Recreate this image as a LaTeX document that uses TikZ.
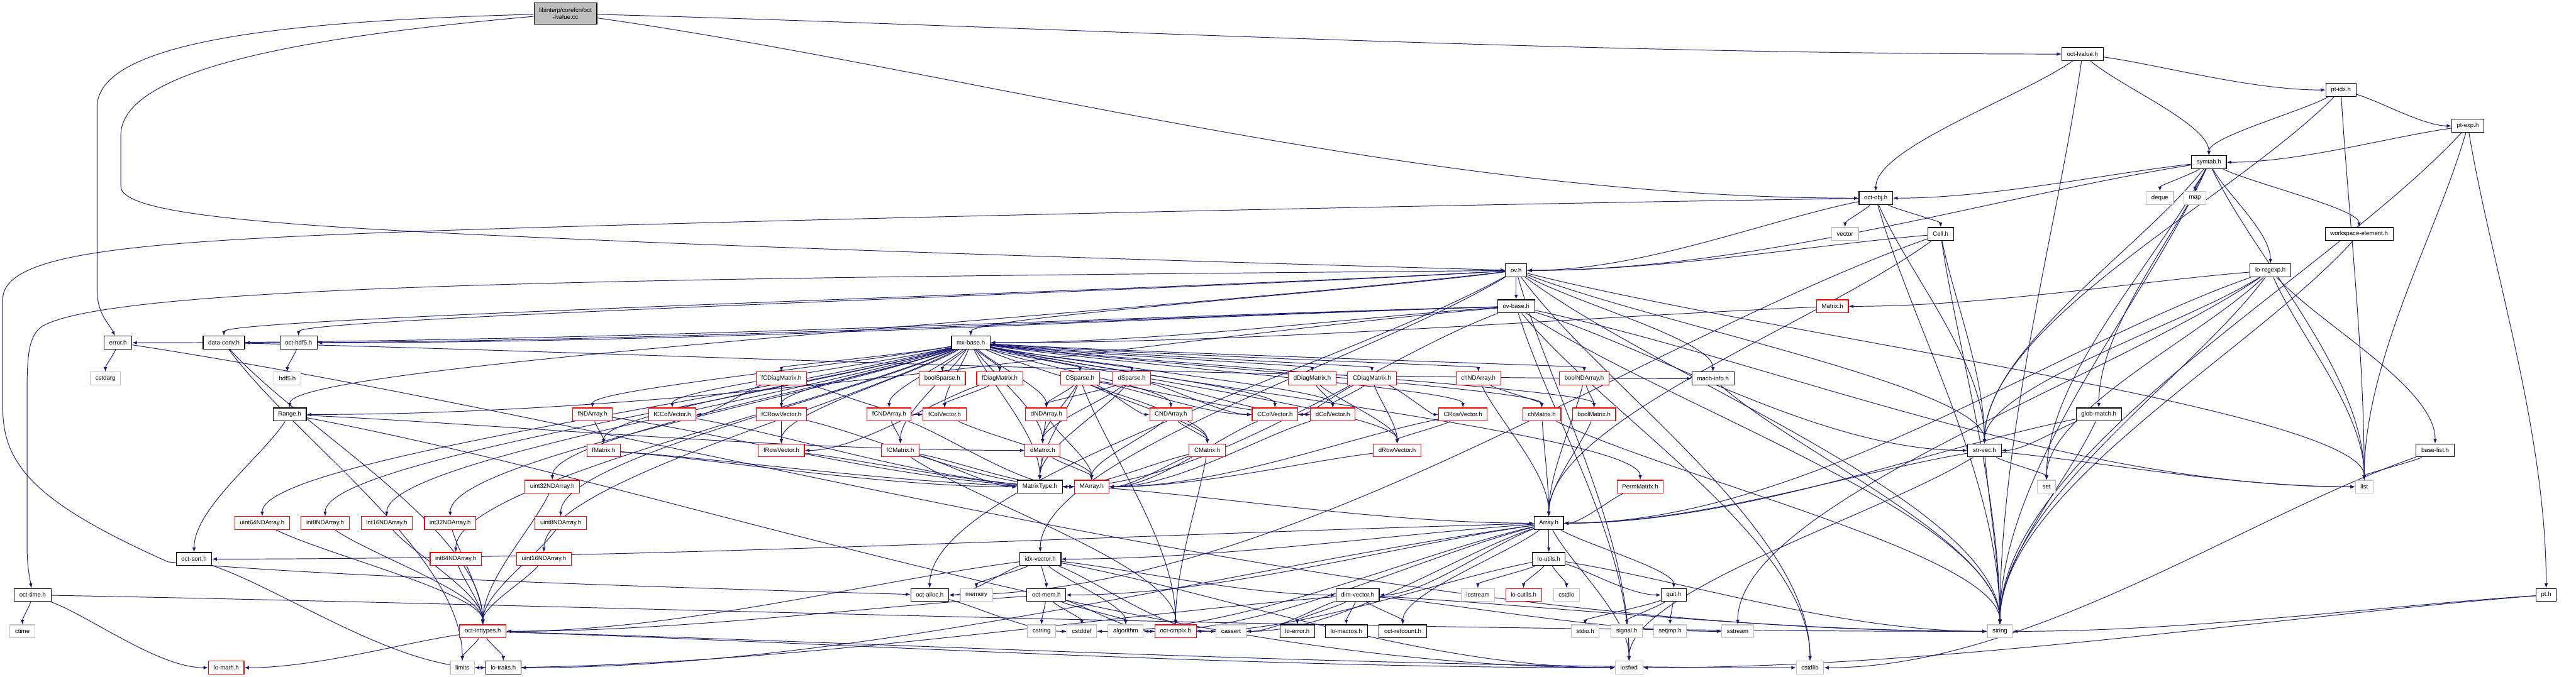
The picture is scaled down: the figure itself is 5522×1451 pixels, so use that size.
\documentclass[tikz,border=0pt]{standalone}
\usepackage{fontspec}
\setmainfont{Liberation Sans}
\usetikzlibrary{arrows.meta}
\definecolor{edgeblue}{RGB}{25,25,112}
\definecolor{nodered}{RGB}{255,0,0}
\definecolor{nodegray}{RGB}{191,191,191}
\pgfdeclarelayer{bg}
\pgfsetlayers{bg,main}
\makeatletter
\newcommand{\mydeps}[3][2.5]{%
  \foreach \tgt in {#3}{%
    \pgfpointanchor{#2}{center}\edef\xa{\the\pgf@x}\edef\ya{\the\pgf@y}%
    \pgfpointanchor{\tgt}{center}\edef\xb{\the\pgf@x}\edef\yb{\the\pgf@y}%
    \pgfmathsetmacro{\sfl}{(abs(\xb-\xa) > #1*abs(\yb-\ya)) ? 1 : 0}%
    \pgfmathsetmacro{\cax}{\xa+0.3*(\xb-\xa)}%
    \pgfmathsetmacro{\cay}{\ya+0.3*(\yb-\ya)}%
    \pgfmathsetmacro{\cbx}{\xb-\sfl*0.35*(\xb-\xa)}%
    \pgfmathsetmacro{\cby}{\yb-(1-\sfl)*0.35*(\yb-\ya)}%
    \draw[dep] (#2) .. controls (\cax pt,\cay pt) and (\cbx pt,\cby pt) .. (\tgt);
  }}
\makeatother
\begin{document}
\begin{tikzpicture}[x=0.5pt,y=-0.5pt,
  font=\fontsize{6.5}{7.5}\selectfont,
  nbase/.style={rectangle, fill=white, line width=0.75pt, inner xsep=5.5pt, inner ysep=0pt, minimum height=14pt},
  blk/.style={nbase, draw=black},
  rd/.style={nbase, draw=nodered},
  gr/.style={nbase, draw=nodegray},
  rootst/.style={nbase, fill=nodegray, draw=black, align=center, minimum height=23pt},
  dep/.style={draw=edgeblue, line width=0.65pt, -{Latex[length=5pt,width=3.8pt]}}]
\useasboundingbox (0,0) rectangle (5522,1451);
\begin{pgfonlayer}{bg}
\fill[white] (0,0) rectangle (5522,1451);
\end{pgfonlayer}
% rank 0-4
\node[rootst] (root) at (1212,29) {libinterp/corefcn/oct\\-lvalue.cc};
\node[blk] (octlvalueh) at (4464,116) {oct-lvalue.h};
\node[blk] (ptidx) at (5018,193) {pt-idx.h};
\node[blk] (ptexp) at (5290,270) {pt-exp.h};
\node[blk] (symtab) at (4735,348) {symtab.h};
% rank 5-8
\node[blk] (octobj) at (4021,425) {oct-obj.h};
\node[gr] (deque) at (4630,425) {deque};
\node[gr] (map) at (4705,425) {map};
\node[gr] (vector) at (3955,502) {vector};
\node[blk] (cell) at (4160,502) {Cell.h};
\node[blk] (wse) at (5057,502) {workspace-element.h};
\node[blk] (ov) at (3250,580) {ov.h};
\node[blk] (loregexp) at (4867,580) {lo-regexp.h};
\node[blk] (ovbase) at (3250,657) {ov-base.h};
\node[rd] (matrixh) at (3928,657) {Matrix.h};
% rank 9
\node[blk] (error) at (253,735) {error.h};
\node[blk] (dataconv) at (480,735) {data-conv.h};
\node[blk] (octhdf) at (640,735) {oct-hdf5.h};
\node[blk] (mxbase) at (2081,735) {mx-base.h};
% rank 10
\node[gr] (cstdarg) at (226,812) {cstdarg};
\node[gr] (hdf) at (616,812) {hdf5.h};
\node[rd] (fCDiag) at (1675,812) {fCDiagMatrix.h};
\node[rd] (boolSparse) at (2020,812) {boolSparse.h};
\node[rd] (fDiag) at (2143,812) {fDiagMatrix.h};
\node[rd] (CSparse) at (2315,812) {CSparse.h};
\node[rd] (dSparse) at (2426,812) {dSparse.h};
\node[rd] (dDiag) at (2813,812) {dDiagMatrix.h};
\node[rd] (CDiag) at (2941,812) {CDiagMatrix.h};
\node[rd] (chND) at (3169,812) {chNDArray.h};
\node[rd] (boolND) at (3396,812) {boolNDArray.h};
\node[blk] (machinfo) at (3672,812) {mach-info.h};
% rank 11
\node[blk] (range) at (621,889) {Range.h};
\node[rd] (fND) at (1270,889) {fNDArray.h};
\node[rd] (fCCol) at (1441,889) {fCColVector.h};
\node[rd] (fCRow) at (1675,889) {fCRowVector.h};
\node[rd] (fCND) at (1906,889) {fCNDArray.h};
\node[rd] (fCol) at (2025,889) {fColVector.h};
\node[rd] (dND) at (2243,889) {dNDArray.h};
\node[rd] (CND) at (2510,889) {CNDArray.h};
\node[rd] (CCol) at (2733,889) {CColVector.h};
\node[rd] (dCol) at (2857,889) {dColVector.h};
\node[rd] (CRow) at (3136,889) {CRowVector.h};
\node[rd] (chMat) at (3305,889) {chMatrix.h};
\node[rd] (boolMat) at (3417,889) {boolMatrix.h};
\node[blk] (globmatch) at (4499,889) {glob-match.h};
% rank 12
\node[rd] (fMat) at (1294,966) {fMatrix.h};
\node[rd] (fRow) at (1675,966) {fRowVector.h};
\node[rd] (fCMat) at (1930,966) {fCMatrix.h};
\node[rd] (dMat) at (2235,966) {dMatrix.h};
\node[rd] (CMat) at (2588,966) {CMatrix.h};
\node[rd] (dRow) at (2995,966) {dRowVector.h};
\node[blk] (strvec) at (4254,966) {str-vec.h};
\node[blk] (baselist) at (5220,966) {base-list.h};
% rank 13
\node[rd] (u32) at (1184,1044) {uint32NDArray.h};
\node[blk] (mtype) at (2229,1044) {MatrixType.h};
\node[rd] (marray) at (2340,1044) {MArray.h};
\node[rd] (perm) at (3516,1044) {PermMatrix.h};
\node[gr] (set) at (4387,1044) {set};
\node[gr] (list) at (5068,1044) {list};
% rank 14
\node[rd] (u64) at (562,1122) {uint64NDArray.h};
\node[rd] (i8) at (697,1122) {int8NDArray.h};
\node[rd] (i16) at (829,1122) {int16NDArray.h};
\node[rd] (i32) at (965,1122) {int32NDArray.h};
\node[rd] (u8) at (1202,1122) {uint8NDArray.h};
\node[blk] (array) at (3320,1122) {Array.h};
% rank 15
\node[blk] (octsort) at (416,1199) {oct-sort.h};
\node[rd] (i64) at (977,1199) {int64NDArray.h};
\node[rd] (u16) at (1166,1199) {uint16NDArray.h};
\node[blk] (idxvec) at (2230,1199) {idx-vector.h};
\node[blk] (loutils) at (3320,1199) {lo-utils.h};
% rank 16
\node[blk] (octtime) at (70,1276) {oct-time.h};
\node[blk] (octalloc) at (1993,1276) {oct-alloc.h};
\node[gr] (memory) at (2093,1276) {memory};
\node[blk] (octmem) at (2243,1276) {oct-mem.h};
\node[blk] (dimvec) at (2910,1276) {dim-vector.h};
\node[gr] (iostream) at (3168,1276) {iostream};
\node[rd] (locutils) at (3266,1276) {lo-cutils.h};
\node[gr] (cstdio) at (3358,1276) {cstdio};
\node[blk] (quit) at (3588,1276) {quit.h};
\node[blk] (pt) at (5458,1276) {pt.h};
% rank 17
\node[gr] (ctime) at (48,1354) {ctime};
\node[rd] (octint) at (1035,1354) {oct-inttypes.h};
\node[gr] (cstring) at (2233,1354) {cstring};
\node[gr] (cstddef) at (2319,1354) {cstddef};
\node[gr] (algorithm) at (2413,1354) {algorithm};
\node[rd] (octcmplx) at (2520,1354) {oct-cmplx.h};
\node[gr] (cassert) at (2639,1354) {cassert};
\node[blk] (loerror) at (2781,1354) {lo-error.h};
\node[blk] (lomacros) at (2886,1354) {lo-macros.h};
\node[blk] (refcount) at (3007,1354) {oct-refcount.h};
\node[gr] (stdioh) at (3398,1354) {stdio.h};
\node[gr] (signalh) at (3487,1354) {signal.h};
\node[gr] (setjmph) at (3580,1354) {setjmp.h};
\node[gr] (sstream) at (3725,1354) {sstream};
\node[gr] (string) at (4287,1354) {string};
% rank 18
\node[rd] (lomath) at (485,1432) {lo-math.h};
\node[gr] (limits) at (991,1432) {limits};
\node[blk] (lotraits) at (1079,1432) {lo-traits.h};
\node[gr] (iosfwd) at (3492,1432) {iosfwd};
\node[gr] (cstdlib) at (3880,1432) {cstdlib};
% edges
\begin{pgfonlayer}{bg}
% routed long edges
\draw[dep] (root) .. controls (600,45) and (208,90) .. (208,230) -- (208,620) .. controls (208,675) and (235,695) .. (error);
\draw[dep] (root) .. controls (700,75) and (259,140) .. (259,290) -- (259,400) .. controls (259,470) and (700,490) .. (1400,520) .. controls (2100,548) and (2900,570) .. (ov);
\draw[dep] (ov) .. controls (1500,596) and (250,605) .. (90,700) .. controls (62,720) and (58,760) .. (58,840) -- (58,1170) .. controls (58,1215) and (63,1235) .. (octtime);
\draw[dep] (octobj) .. controls (3000,440) and (1500,475) .. (900,496) .. controls (300,518) and (10,540) .. (6,640) -- (6,880) .. controls (8,1000) and (80,1080) .. (360,1205) .. controls (700,1238) and (1500,1262) .. (octalloc);
% other edges
\mydeps{root}{octobj,octlvalueh}
\mydeps{octlvalueh}{string,octobj,ptidx,symtab}
\mydeps{ptidx}{list,strvec,ptexp,symtab}
\mydeps{ptexp}{string,list,pt,symtab}
\mydeps{pt}{string,iosfwd}
\mydeps{symtab}{deque,map,set,list,string,globmatch,loregexp,octobj,wse,ov,strvec}
\mydeps{wse}{string}
\mydeps{loregexp}{list,set,string,sstream,array,matrixh,baselist,strvec}
\mydeps{globmatch}{string,array,strvec}
\mydeps{baselist}{list,cstdlib}
\mydeps{strvec}{iosfwd,list,set,string,array}
\mydeps{cell}{string,array,octalloc,strvec,ov}
\mydeps{octobj}{string,vector,strvec,cell,ov}
\mydeps[20]{ov}{cstdlib,iosfwd,string,list,range,dataconv,idxvec,machinfo,mxbase,octalloc,octhdf,strvec,ovbase}
\mydeps{ovbase}{cstdlib,iosfwd,list,string,range,dataconv,mxbase,strvec,error,octhdf,mtype}
\mydeps{matrixh}{mxbase}
\mydeps[20]{mxbase}{mtype,boolMat,boolND,chMat,chND,dCol,dRow,dMat,dND,dDiag,CCol,CRow,CMat,CND,CDiag,fCol,fRow,fMat,fND,fDiag,fCCol,fCRow,fCMat,fCND,fCDiag,boolSparse,dSparse,CSparse,i8,i16,i32,i64,u8,u16,u32,u64,perm}
\mydeps{error}{cstdarg,string}
\mydeps{dataconv}{limits,machinfo,octint}
\mydeps{octhdf}{hdf}
\mydeps{machinfo}{string}
\mydeps{range}{iosfwd,dMat,octsort}
\mydeps{fCDiag}{fCCol,fCRow,fCol,fRow}
\mydeps{fDiag}{fCol,fRow}
\mydeps{dDiag}{dCol,dRow}
\mydeps{CDiag}{CCol,dCol,CRow,dRow}
\mydeps{CSparse}{dMat,dND,CND,CCol,dCol,CMat,mtype,octcmplx}
\mydeps{dSparse}{dND,dMat,mtype,CCol,dCol}
\mydeps{chND}{chMat,array}
\mydeps{boolND}{boolMat,array}
\mydeps{chMat}{array,string}
\mydeps{boolMat}{array}
\mydeps{fND}{fMat,marray}
\mydeps{fCCol}{marray}
\mydeps{fCRow}{fRow,marray}
\mydeps{fCND}{fCMat,marray}
\mydeps{fCol}{marray}
\mydeps{dND}{dMat,marray}
\mydeps{CND}{CMat,marray}
\mydeps{CCol}{marray}
\mydeps{dCol}{marray}
\mydeps{CRow}{dRow,marray}
\mydeps{fMat}{marray,mtype}
\mydeps{fRow}{marray}
\mydeps{fCMat}{marray,mtype,octcmplx}
\mydeps{dMat}{marray,mtype}
\mydeps{CMat}{marray,mtype,octcmplx}
\mydeps{dRow}{marray}
\mydeps{u32}{octint}
\mydeps{u64}{octint}
\mydeps{i8}{octint}
\mydeps{i16}{octint}
\mydeps{i32}{octint}
\mydeps{u8}{octint}
\mydeps{i64}{octint}
\mydeps{u16}{octint}
\mydeps{marray}{array}
\mydeps{perm}{array}
\mydeps{array}{cassert,cstddef,algorithm,iosfwd,dimvec,idxvec,lotraits,loutils,octsort,quit,octmem,refcount}
\mydeps{octsort}{lotraits}
\mydeps{idxvec}{cassert,algorithm,iosfwd,memory,dimvec,octint,octalloc,octmem}
\mydeps{loutils}{iostream,locutils,cstdio,quit,string,octcmplx}
\mydeps{octtime}{ctime,string,lomath}
\mydeps{octalloc}{cstddef}
\mydeps{octmem}{cstddef,cstring,algorithm,octcmplx,octint}
\mydeps{dimvec}{cassert,limits,sstream,string,loerror,lomacros,refcount}
\mydeps{quit}{stdioh,signalh,setjmph}
\mydeps{octint}{lomath,limits,lotraits,iosfwd,cstdlib}
\end{pgfonlayer}
\end{tikzpicture}
\end{document}
